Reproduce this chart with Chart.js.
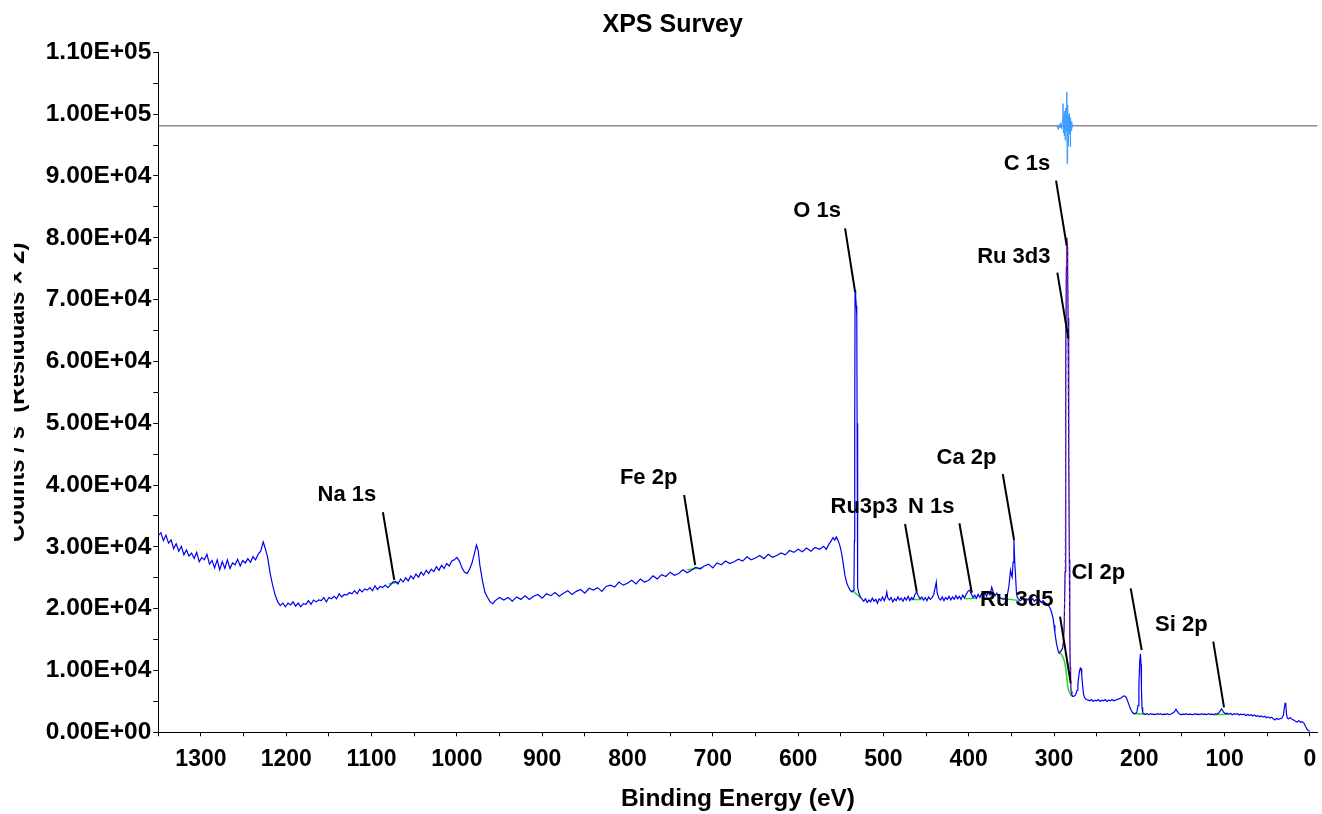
<!DOCTYPE html>
<html>
<head>
<meta charset="utf-8">
<title>XPS Survey</title>
<script src="https://cdn.jsdelivr.net/npm/chart.js@4.4.1/dist/chart.umd.min.js"></script>
<style>
  html, body { margin: 0; padding: 0; background: #fff; overflow: hidden; }
  #wrap { position: absolute; left: 0; top: 0; width: 1322px; height: 814px; }
  /* the left edge of the y title is cut off in the original export */
  #chart { clip-path: inset(0 0 0 14px); }
</style>
</head>
<body>
<div id="wrap"><canvas id="chart" width="1322" height="814"></canvas></div>
<script>
// survey spectrum: binding energy (eV) / counts per second
const surveyBE = [
  1350, 1347, 1344, 1341, 1338, 1335, 1332, 1329, 1326, 1323,
  1320, 1317, 1314, 1311, 1308, 1305, 1302, 1299, 1296, 1293,
  1290, 1287, 1284, 1281, 1278, 1275, 1272, 1269, 1266, 1263,
  1260, 1257, 1254, 1251, 1248, 1245, 1242, 1239, 1236, 1233,
  1230, 1227, 1225, 1222, 1219, 1216, 1213, 1210, 1207, 1204,
  1201, 1198, 1195, 1192, 1189, 1186, 1183, 1180, 1177, 1174,
  1171, 1168, 1165, 1162, 1159, 1156, 1153, 1150, 1147, 1144,
  1141, 1138, 1135, 1132, 1129, 1126, 1123, 1120, 1117, 1114,
  1111, 1108, 1105, 1102, 1099, 1096, 1093, 1090, 1087, 1084,
  1081, 1078, 1075, 1072, 1069, 1066, 1063, 1060, 1057, 1054,
  1051, 1048, 1045, 1042, 1039, 1036, 1033, 1030, 1027, 1024,
  1021, 1018, 1015, 1012, 1009, 1006, 1003, 1000, 997, 994,
  991, 988, 985, 982, 979, 977, 975, 973, 970, 967,
  964, 961, 958, 955, 950, 945, 940, 935, 930, 925,
  920, 915, 910, 905, 900, 895, 890, 885, 880, 875,
  870, 865, 860, 855, 850, 845, 840, 835, 830, 825,
  820, 815, 810, 805, 800, 795, 790, 785, 780, 775,
  770, 765, 760, 755, 750, 745, 740, 735, 730, 725,
  720, 715, 710, 705, 700, 695, 690, 685, 680, 675,
  670, 665, 660, 655, 650, 645, 640, 635, 630, 625,
  620, 615, 610, 605, 600, 595, 590, 585, 580, 575,
  570, 567, 564, 561, 559, 557, 555, 553, 551, 549,
  547, 545, 543, 541, 539, 537, 535.5, 534.5, 534, 533.6,
  533.2, 532.5, 531.8, 531.2, 530.8, 530.4, 530, 529, 527, 525,
  523, 521, 519, 517, 515, 513, 511, 509, 507, 505,
  503, 501, 499, 497, 496, 495, 493, 491, 489, 487,
  485, 483, 481, 479, 477, 475, 473, 471, 469, 467,
  465, 463, 461, 459, 457, 455, 453, 451, 449, 447,
  445, 443, 441, 439, 438, 437, 435, 433, 431, 429,
  427, 425, 423, 421, 419, 417, 415, 413, 411, 409,
  407, 405, 403, 401, 399, 397, 395, 393, 391, 389,
  387, 385, 383, 381, 379, 377, 375, 373, 371, 369,
  367, 365, 363, 361, 359, 357, 355, 353, 351, 350,
  349, 348, 347, 346, 345, 344, 343, 341, 339, 337,
  335, 333, 331, 329, 327, 325, 323, 321, 319, 317,
  315, 313, 311, 309, 307, 305, 303, 301, 300, 299,
  298, 297, 296, 295, 294, 292, 290, 289, 288, 287,
  286.5, 286, 285.5, 285, 284.5, 284, 283.5, 283, 282.5, 282,
  281.5, 281, 280.5, 280, 279, 278, 277, 276, 275, 274,
  273, 272, 271, 270, 269, 268.3, 267.5, 266.5, 265.5, 264.5,
  263, 262, 260, 258, 256, 254, 252, 250, 248, 246,
  244, 242, 240, 238, 236, 234, 232, 230, 228, 226,
  224, 222, 220, 218, 216, 214, 212, 210, 208, 206,
  204, 203, 201.5, 200.5, 199.5, 198.7, 198, 197.5, 196.8, 196,
  195, 193, 191, 189, 187, 185, 183, 181, 179, 177,
  175, 173, 171, 169, 167, 165, 163, 161, 159, 157,
  155, 153, 151, 149, 147, 145, 143, 141, 139, 137,
  135, 133, 131, 129, 127, 125, 123, 121, 119, 117,
  115, 113, 111, 109, 107, 105, 103.5, 101.5, 99, 97,
  95, 93, 91, 89, 87, 85, 83, 81, 79, 77,
  75, 73, 71, 69, 67, 65, 63, 61, 59, 57,
  55, 53, 51, 49, 47, 45, 43, 41, 39, 37,
  35, 33, 31, 30, 29, 28.3, 27.5, 26.5, 25, 23,
  21, 19, 17, 15, 13, 11, 9, 7, 5, 3,
  1.5, 0
];
const surveyCounts = [
  31800, 32300, 31000, 31900, 30600, 31100, 29700, 30500, 29300, 30100,
  28700, 29500, 28500, 29000, 28100, 29100, 27600, 28300, 27900, 28800,
  27200, 27800, 26600, 27900, 26300, 27600, 26500, 27900, 26500, 27400,
  27100, 28000, 26900, 27800, 27400, 28100, 27500, 28400, 27900, 28800,
  29300, 30800, 29900, 28400, 25800, 23800, 22200, 21100, 20500, 20900,
  20300, 20900, 20600, 21100, 20400, 20900, 20300, 20800, 20700, 21300,
  20700, 21400, 21100, 21400, 21300, 21800, 21100, 21800, 21600, 22000,
  21600, 22400, 21900, 22300, 22200, 22600, 22400, 22900, 22400, 23100,
  22700, 23200, 23000, 23400, 22900, 23700, 23100, 23600, 23400, 23800,
  23400, 23800, 24300, 24400, 24000, 24800, 24300, 25000, 24500, 25300,
  24800, 25600, 25100, 25900, 25400, 26200, 25700, 26400, 26000, 26800,
  26200, 27000, 26500, 27300, 26900, 27700, 27900, 28300, 27700, 26600,
  25900, 25700, 26400, 27500, 29200, 30300, 29400, 27000, 24500, 22600,
  21800, 21100, 20800, 21300, 21800, 21400, 21800, 21200, 21900, 21500,
  22100, 21500, 22000, 22300, 21700, 22400, 22100, 22600, 22000, 22500,
  22900, 22300, 22800, 23100, 22500, 23300, 23000, 23400, 22800, 23600,
  23800, 23500, 24300, 23800, 24100, 24600, 24000, 24800, 24300, 24600,
  25300, 24800, 25500, 25200, 25900, 25400, 25700, 26300, 25800, 26200,
  26700, 26400, 26900, 27200, 26600, 27400, 27100, 27700, 27300, 27600,
  28000, 27700, 28400, 27900, 28200, 28600, 28100, 28800, 28300, 28600,
  29000, 28700, 29400, 29100, 29600, 29200, 29800, 29300, 29900, 29600,
  30100, 29600, 30400, 31000, 31500, 31100, 31600, 31000, 30200, 29000,
  27200, 25300, 24200, 23500, 23000, 22700, 22900, 24000, 31000, 50000,
  71500, 70500, 69000, 67500, 50000, 28000, 23500, 22600, 21900, 21500,
  21200, 21600, 21000, 21400, 21100, 21700, 21200, 21500, 20900, 21600,
  21300, 21900, 21300, 22000, 22700, 21800, 21400, 21800, 21100, 21600,
  21300, 21900, 21400, 21700, 21200, 21800, 21400, 22000, 21300, 21800,
  21500, 22300, 22700, 22100, 21600, 21900, 21400, 21800, 21300, 21900,
  21500, 21800, 22300, 23600, 24300, 22600, 21700, 21400, 21900, 21300,
  21800, 21500, 22000, 21400, 21900, 21500, 22100, 21600, 22000, 21500,
  22200, 21700, 22300, 22800, 23000, 22400, 21800, 22200, 21700, 22300,
  21800, 22400, 21900, 22600, 22000, 22700, 22200, 23500, 22600, 22100,
  22500, 21900, 21700, 21600, 21500, 21700, 22000, 23500, 26200, 25500,
  25100, 27500, 31100, 27500, 25100, 22500, 21800, 21500, 21300, 21700,
  21300, 21600, 21400, 21700, 21300, 21600, 21200, 21500, 21100, 21400,
  21000, 21300, 21000, 20800, 20600, 20200, 19500, 18400, 17300, 16200,
  15200, 14300, 13700, 13100, 12800, 13100, 13600, 14500, 17500, 26000,
  40000, 60000, 75000, 80000, 78500, 74000, 67000, 60000, 45000, 28000,
  16000, 10500, 8000, 6700, 6000, 5800, 5800, 5900, 6000, 6300,
  6800, 7800, 9000, 10000, 10400, 10300, 9300, 7600, 6300, 5700,
  5400, 5300, 5200, 5100, 5300, 5000, 5200, 5100, 5300, 5000,
  5200, 5100, 5300, 5000, 5200, 5100, 5300, 5100, 5200, 5300,
  5400, 5500, 5700, 5900, 5800, 5200, 4400, 3700, 3200, 3000,
  3100, 3200, 4300, 7500, 11500, 12700, 11000, 7000, 4000, 3200,
  3000, 2900, 3000, 2850, 3000, 2900, 2950, 2850, 3000, 2900,
  3000, 2850, 2950, 2900, 3000, 2850, 2950, 3100, 3300, 3700,
  3300, 2950, 2850, 2950, 2900, 3000, 2850, 2950, 2900, 2850,
  3000, 2900, 2950, 2850, 3000, 2900, 2950, 2850, 3000, 2900,
  2950, 2850, 3000, 2950, 3100, 3500, 3800, 3300, 3000, 3100,
  2900, 3050, 2850, 3000, 2900, 3000, 2800, 2950, 2850, 2950,
  2700, 2900, 2750, 2850, 2650, 2800, 2600, 2700, 2500, 2650,
  2450, 2600, 2350, 2500, 2300, 2450, 2200, 2000, 2250, 2100,
  2200, 2300, 2800, 4000, 4700, 4600, 3000, 2300, 2200, 2400,
  2100, 2000, 1800, 1650, 1900, 1600, 1700, 1500, 900, 400,
  250, 200
];

// peak-fit envelope over C 1s / Ru 3d
const fitBE = [294, 290, 288, 287, 286.5, 286, 285.5, 285, 284.5, 284, 283.5, 283, 282.5, 282, 281.5, 281, 280.5, 280, 279];
const fitCounts = [12900, 13700, 17200, 26500, 41000, 61000, 76000, 80000, 79000, 74500, 67500, 60500, 45500, 28500, 16500, 10800, 8200, 6800, 6000];

// backgrounds under the quantified regions (null = gap)
const bgBE = [1080, 1068, 1068, 730, 712, 712, 537, 527, 527, 468, 455, 455, 404, 390, 390, 362, 340, 340,
  294, 291, 288, 286, 285, 284, 283, 281, 279, 279, 207, 192, 192, 113, 96];
const bgCounts = [24000, 24300, null, 26300, 26600, null, 23000, 21800, null, 21500, 21500, null, 21600, 21700, null, 21700, 21300, null,
  12800, 12600, 11600, 10200, 8800, 7600, 6800, 6200, 5800, null, 3050, 2900, null, 2850, 2900];

// residuals (x2) plotted around an offset
const residualOffset = 98100;
const residBE = [298, 296, 295, 294, 293, 292, 291, 290, 289.5, 289, 288.5, 288, 287.5, 287, 286.5, 286, 285.5, 285,
  284.7, 284.4, 284, 283.6, 283.2, 282.8, 282.4, 282, 281.6, 281.2, 280.8, 280.4, 280, 279.5, 279, 278.5, 278];
const residCounts = [98100, 97900, 97500, 98300, 97800, 98600, 97600, 99200, 101700, 97000, 99800, 96500, 100500, 95800, 99000, 101000, 97200, 103600,
  92000, 100800, 96200, 101500, 94800, 99900, 96800, 100100, 97200, 99400, 94700, 98900, 97300, 98800, 97700, 98300, 98100];

// peak labels: text position and leader line, all in data units
const peakNames    = ['Na 1s', 'Fe 2p', 'O 1s', 'Ru3p3', 'N 1s', 'Ca 2p', 'C 1s', 'Ru 3d3', 'Ru 3d5', 'Cl 2p', 'Si 2p'];
const labelBE      = [1128.9, 775.2, 577.7, 522.6, 443.8, 402.5, 331.6, 347.1, 343.7, 248, 150.8];
const labelCounts  = [38340, 41140, 84300, 36440, 36440, 44370, 91930, 76970, 21400, 25800, 17360];
const leaderFromBE = [1086.7, 733.6, 544.9, 474.6, 410.9, 360.1, 297.6, 296.1, 292.9, 210.1, 113.3];
const leaderFromCt = [35590, 38390, 81530, 33690, 33810, 41780, 89230, 74350, 18700, 23290, 14660];
const leaderToBE   = [1073.4, 720.7, 533.2, 460.9, 396.4, 346.8, 285.1, 283.2, 280.4, 197.2, 100.7];
const leaderToCt   = [24640, 27060, 71270, 22740, 22580, 31110, 78710, 63730, 7926, 13310, 4044];

const xMax = 1350, xMin = -9;
const yMax = 110000;

const FONT = '"Liberation Sans", Arial, sans-serif';
Chart.defaults.font.family = FONT;
Chart.defaults.color = '#000';

function pts(xs, ys) { return xs.map((x, i) => ({ x: x, y: ys[i] })); }

function sci(v) {
  const parts = v.toExponential(2).split('e');
  const e = parseInt(parts[1], 10);
  return parts[0] + 'E' + (e < 0 ? '-' : '+') + String(Math.abs(e)).padStart(2, '0');
}

function stepTicks(from, to, step) {
  const out = [];
  for (let v = from; v <= to; v += step) out.push({ value: v });
  return out;
}

const peakLabels = {
  id: 'peakLabels',
  afterDatasetsDraw(chart) {
    const { ctx } = chart;
    const x = chart.scales.x, y = chart.scales.y;
    ctx.save();
    ctx.strokeStyle = '#000';
    ctx.lineWidth = 2;
    ctx.fillStyle = '#000';
    ctx.font = 'bold 22px ' + FONT;
    ctx.textAlign = 'center';
    ctx.textBaseline = 'middle';
    peakNames.forEach((name, i) => {
      ctx.beginPath();
      ctx.moveTo(x.getPixelForValue(leaderFromBE[i]), y.getPixelForValue(leaderFromCt[i]));
      ctx.lineTo(x.getPixelForValue(leaderToBE[i]), y.getPixelForValue(leaderToCt[i]));
      ctx.stroke();
      ctx.fillText(name, x.getPixelForValue(labelBE[i]), y.getPixelForValue(labelCounts[i]));
    });
    ctx.restore();
  }
};

new Chart(document.getElementById('chart'), {
  type: 'line',
  data: {
    datasets: [
      { label: 'Fit', data: pts(fitBE, fitCounts), borderColor: '#e82020', borderWidth: 1, borderDash: [3, 4] },
      { label: 'Survey', data: pts(surveyBE, surveyCounts), borderColor: '#0000f0', borderWidth: 1.2 },
      { label: 'Background', data: pts(bgBE, bgCounts), borderColor: '#22dd22', borderWidth: 1.5, spanGaps: false },
      { label: 'Residuals', data: pts(residBE, residCounts), borderColor: '#3a9cff', borderWidth: 1 },
      { label: 'Residual baseline', data: pts([xMax, xMin], [residualOffset, residualOffset]), borderColor: '#555', borderWidth: 1 }
    ]
  },
  options: {
    responsive: false,
    animation: false,
    events: [],
    elements: { point: { radius: 0 }, line: { tension: 0 } },
    layout: { padding: { left: 27.8, right: 4.4, top: 0, bottom: 0 } },
    plugins: {
      legend: { display: false },
      tooltip: { enabled: false },
      title: {
        display: true, text: 'XPS Survey', color: '#000',
        font: { size: 25, weight: 'bold' },
        padding: { top: 10.4, bottom: 11.9 }
      }
    },
    scales: {
      x: {
        type: 'linear', reverse: true, min: xMin, max: xMax,
        afterFit(s) { s.height = 81.7; },
        afterBuildTicks(s) { s.ticks = stepTicks(0, xMax, 50); },
        border: { display: true, color: '#000', width: 1 },
        grid: { display: true, drawOnChartArea: false, drawTicks: true, tickLength: 4, color: '#000' },
        ticks: {
          autoSkip: false, maxRotation: 0, padding: 9.4, color: '#000',
          font: { size: 23, weight: 'bold' },
          callback: v => (v % 100 === 0 ? String(v) : '')
        },
        title: {
          display: true, text: 'Binding Energy (eV)', color: '#000',
          font: { size: 24.5, weight: 'bold' }, padding: { top: 0, bottom: 0.4 }
        }
      },
      y: {
        type: 'linear', min: 0, max: yMax,
        afterFit(s) { s.width = 130.5; },
        afterBuildTicks(s) { s.ticks = stepTicks(0, yMax, 5000); },
        border: { display: true, color: '#000', width: 1 },
        grid: { display: true, drawOnChartArea: false, drawTicks: true, tickLength: 5, color: '#000' },
        ticks: {
          autoSkip: false, padding: 2, color: '#000',
          font: { size: 24.5, weight: 'bold' },
          callback: v => (v % 10000 === 0 ? sci(v) : '')
        },
        title: {
          display: true, text: 'Counts / s  (Residuals × 2)', color: '#000',
          font: { size: 24, weight: 'bold' }, padding: { top: -24.7, bottom: 0 }
        }
      }
    }
  },
  plugins: [peakLabels]
});
</script>
</body>
</html>
